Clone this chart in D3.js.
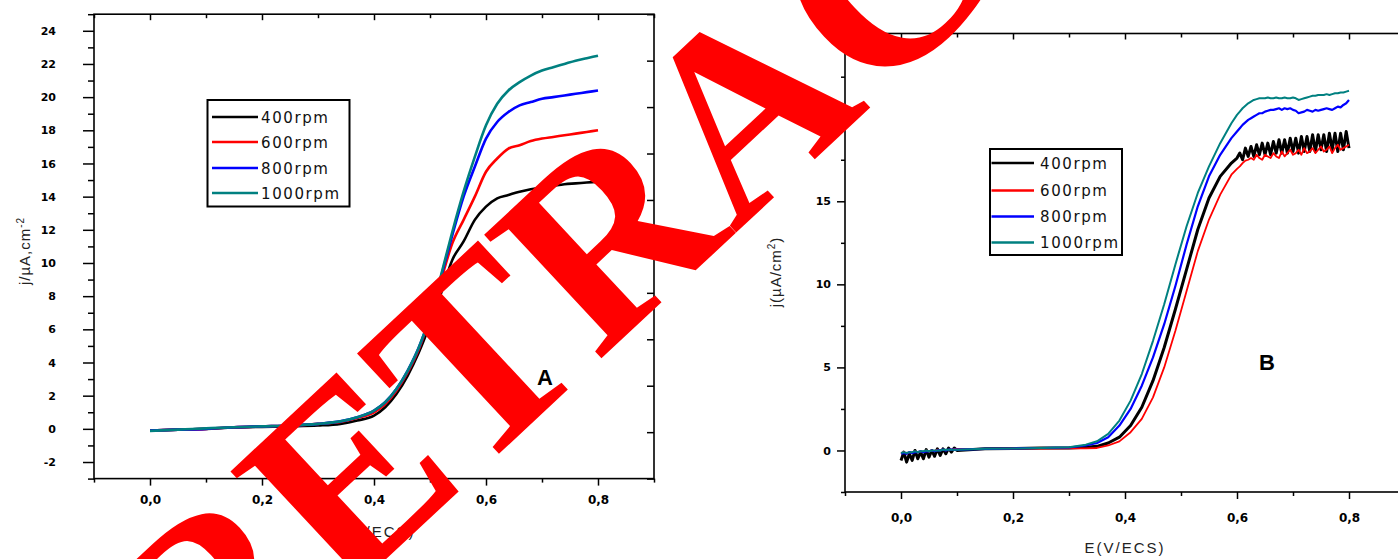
<!DOCTYPE html>
<html>
<head>
<meta charset="utf-8">
<script src="https://cdn.jsdelivr.net/npm/d3@7/dist/d3.min.js"></script>
<style>
  body { margin: 0; background: #fff; }
  svg { display: block; }
  .tick text { font-family: "DejaVu Sans", sans-serif; font-weight: bold; fill: #000; }
  .tick line { stroke: #000; stroke-width: 1.5; }
</style>
</head>
<body>
<svg id="chart" width="1398" height="559"></svg>
<script>
// legend entries and colours
var rpm = ["400rpm", "600rpm", "800rpm", "1000rpm"];
var colors = ["#000000", "#ff0000", "#0000ff", "#008080"];

// panel A : potential (V/ECS) and current density (uA/cm2)
var potA = [0, 0.05, 0.10, 0.15, 0.20, 0.25, 0.30, 0.34, 0.37, 0.40, 0.42, 0.44, 0.46, 0.48, 0.50,
            0.52, 0.54, 0.56, 0.58, 0.60, 0.62, 0.64, 0.66, 0.68, 0.70, 0.72, 0.74, 0.76, 0.78, 0.80];
var a400 = [-0.1, -0.05, 0.0, 0.08, 0.12, 0.15, 0.2, 0.3, 0.5, 0.8, 1.3, 2.1, 3.2, 4.6, 6.3,
            8.2, 10.2, 11.3, 12.6, 13.4, 13.9, 14.1, 14.3, 14.45, 14.55, 14.65, 14.75, 14.8, 14.85, 14.9];
var a600 = [-0.1, -0.05, 0.0, 0.1, 0.15, 0.2, 0.3, 0.42, 0.65, 1.0, 1.5, 2.3, 3.4, 4.8, 6.7,
            9.0, 11.2, 12.6, 14.0, 15.5, 16.3, 16.9, 17.1, 17.35, 17.5, 17.6, 17.7, 17.8, 17.9, 18.0];
var a800 = [-0.1, -0.05, 0.0, 0.1, 0.15, 0.2, 0.3, 0.45, 0.7, 1.1, 1.6, 2.4, 3.5, 4.9, 6.8,
            9.2, 11.7, 14.0, 15.8, 17.5, 18.5, 19.1, 19.5, 19.7, 19.9, 20.0, 20.1, 20.2, 20.3, 20.4];
var a1000 = [-0.12, -0.05, 0.03, 0.1, 0.15, 0.2, 0.3, 0.45, 0.7, 1.1, 1.6, 2.4, 3.5, 4.9, 6.8,
             9.3, 11.9, 14.3, 16.4, 18.3, 19.6, 20.4, 20.9, 21.3, 21.6, 21.8, 22.0, 22.2, 22.35, 22.5];

// panel B : denser sampling where the records are noisy
var potB = [0, 0.005, 0.01, 0.015, 0.02, 0.025, 0.03, 0.035, 0.04, 0.045, 0.05,
            0.055, 0.06, 0.065, 0.07, 0.075, 0.08, 0.085, 0.09, 0.095, 0.10,
            0.15, 0.20, 0.25, 0.30, 0.33,
            0.35, 0.37, 0.39, 0.41, 0.43, 0.45, 0.47, 0.49, 0.51, 0.53, 0.55, 0.57, 0.59,
            0.600, 0.605, 0.610, 0.615, 0.620, 0.625, 0.630, 0.635, 0.640, 0.645,
            0.650, 0.655, 0.660, 0.665, 0.670, 0.675, 0.680, 0.685, 0.690, 0.695,
            0.700, 0.705, 0.710, 0.715, 0.720, 0.725, 0.730, 0.735, 0.740, 0.745,
            0.750, 0.755, 0.760, 0.765, 0.770, 0.775, 0.780, 0.785, 0.790, 0.795, 0.800];
var b400 = [-0.6, -0.1, -0.7, -0.2, -0.6, 0.0, -0.5, -0.1, -0.5, 0.05, -0.4,
            0.0, -0.35, 0.1, -0.3, 0.1, -0.2, 0.15, -0.1, 0.15, 0.0,
            0.1, 0.12, 0.15, 0.15, 0.2,
            0.25, 0.45, 0.8, 1.5, 2.6, 4.2, 6.2, 8.5, 10.9, 13.3, 15.2, 16.5, 17.3,
            17.6, 17.9, 17.5, 18.2, 17.7, 18.3, 17.7, 18.4, 17.8, 18.5,
            17.8, 18.5, 17.8, 18.6, 17.9, 18.7, 17.9, 18.7, 17.9, 18.8,
            18.0, 18.8, 17.9, 18.9, 18.0, 18.9, 18.0, 19.0, 18.0, 19.0,
            18.1, 19.0, 18.0, 19.1, 18.1, 19.1, 18.0, 19.1, 18.1, 19.2, 18.2];
var b600 = [-0.2, -0.1, -0.2, -0.1, -0.15, -0.05, -0.1, -0.05, -0.1, 0.0, -0.05,
            0.0, -0.05, 0.05, 0.0, 0.05, 0.0, 0.05, 0.05, 0.1, 0.1,
            0.1, 0.12, 0.12, 0.13, 0.13,
            0.15, 0.3, 0.55, 1.1, 1.9, 3.2, 5.0, 7.2, 9.6, 12.0, 13.9, 15.4, 16.6,
            16.95, 17.1, 17.3, 17.45, 17.5, 17.6, 17.5, 17.8, 17.6, 17.5,
            17.8, 17.7, 17.6, 17.9, 17.7, 17.6, 18.0, 17.7, 17.9, 18.1,
            17.8, 17.9, 18.1, 17.8, 18.2, 17.9, 18.0, 18.2, 17.9, 18.1,
            18.3, 18.0, 18.1, 18.3, 17.9, 18.2, 18.4, 18.1, 18.2, 18.3, 18.4];
var b800 = [-0.2, -0.15, -0.2, -0.1, -0.15, -0.1, -0.1, -0.05, -0.1, -0.05, -0.05,
            0.0, -0.05, 0.0, 0.0, 0.05, 0.0, 0.05, 0.05, 0.05, 0.05,
            0.1, 0.12, 0.15, 0.18, 0.3,
            0.45, 0.8, 1.5, 2.5, 3.9, 5.6, 7.6, 9.9, 12.4, 14.7, 16.5, 17.8, 18.8,
            19.2, 19.4, 19.6, 19.75, 19.9, 20.0, 20.1, 20.2, 20.3, 20.3,
            20.4, 20.45, 20.5, 20.5, 20.55, 20.6, 20.5, 20.6, 20.55, 20.6,
            20.5, 20.45, 20.3, 20.35, 20.4, 20.5, 20.45, 20.4, 20.5, 20.45,
            20.5, 20.55, 20.6, 20.55, 20.5, 20.6, 20.7, 20.65, 20.8, 20.9, 21.1];
var b1000 = [-0.15, -0.1, -0.15, -0.1, -0.1, -0.05, -0.1, -0.05, -0.05, 0.0, -0.05,
             0.0, 0.0, 0.0, 0.0, 0.05, 0.05, 0.05, 0.05, 0.05, 0.05,
             0.1, 0.12, 0.15, 0.2, 0.35,
             0.55, 1.0, 1.8, 3.0, 4.6, 6.6, 8.8, 11.2, 13.5, 15.5, 17.1, 18.5, 19.7,
             20.2, 20.4, 20.6, 20.75, 20.9, 21.0, 21.1, 21.15, 21.2, 21.2,
             21.2, 21.25, 21.2, 21.2, 21.25, 21.2, 21.2, 21.25, 21.2, 21.2,
             21.25, 21.2, 21.1, 21.15, 21.2, 21.25, 21.3, 21.35, 21.35, 21.4,
             21.4, 21.4, 21.45, 21.4, 21.45, 21.5, 21.5, 21.55, 21.55, 21.6, 21.65];

var svg = d3.select("#chart");

function comma(d) {
    return d3.format(".1f")(d).replace(".", ",");
}

function drawPanel(p) {
    var x = d3.scaleLinear().domain([-0.1, 0.9]).range([p.left, p.right]);
    var y = d3.scaleLinear().domain(p.yDomain).range([p.bottom, p.top]);
    var g = svg.append("g");

    // curves
    var line = d3.line()
        .x(function(d) { return x(d[0]); })
        .y(function(d) { return y(d[1]); })
        .curve(p.curve);
    p.series.forEach(function(s, i) {
        g.append("path")
            .datum(p.pot.map(function(e, k) { return [e, s[k]]; }))
            .attr("fill", "none")
            .attr("stroke", colors[i])
            .attr("stroke-width", p.lw[i])
            .attr("stroke-linejoin", "round")
            .attr("d", line);
    });

    // minor and major ticks, bottom
    var minorX = d3.range(-0.1, 0.95, 0.2);
    var majorX = [0, 0.2, 0.4, 0.6, 0.8];
    g.append("g").attr("transform", "translate(0," + p.bottom + ")")
        .call(d3.axisBottom(x).tickValues(minorX).tickSize(4).tickSizeOuter(0).tickFormat(""));
    g.append("g").attr("transform", "translate(0," + p.bottom + ")")
        .call(d3.axisBottom(x).tickValues(majorX).tickSize(7).tickSizeOuter(0)
            .tickPadding(p.xPad).tickFormat(comma))
        .selectAll("text").style("font-size", "12px");
    // top ticks point inward
    g.append("g").attr("transform", "translate(0," + p.top + ")")
        .call(d3.axisBottom(x).tickValues(minorX).tickSize(4).tickSizeOuter(0).tickFormat(""));
    g.append("g").attr("transform", "translate(0," + p.top + ")")
        .call(d3.axisBottom(x).tickValues(majorX).tickSize(6).tickSizeOuter(0).tickFormat(""));

    // left axis
    g.append("g").attr("transform", "translate(" + p.left + ",0)")
        .call(d3.axisLeft(y).tickValues(p.yMinor).tickSize(p.minorLen).tickSizeOuter(0).tickFormat(""));
    g.append("g").attr("transform", "translate(" + p.left + ",0)")
        .call(d3.axisLeft(y).tickValues(p.yMajor).tickSize(p.majorLen).tickSizeOuter(0)
            .tickPadding(p.yPad).tickFormat(function(d) { return String(d); }))
        .selectAll("text").style("font-size", "11px");

    // right axis, inward ticks on its own divisions
    var r = d3.scaleLinear().domain([0, p.rightDiv]).range([p.bottom, p.top]);
    g.append("g").attr("transform", "translate(" + p.right + ",0)")
        .call(d3.axisRight(r).ticks(p.rightDiv).tickSize(-7).tickSizeOuter(0).tickFormat(""));

    g.selectAll(".domain").remove();

    // frame
    g.append("rect")
        .attr("x", p.left).attr("y", p.top)
        .attr("width", p.right - p.left).attr("height", p.bottom - p.top)
        .attr("fill", "none").attr("stroke", "#000").attr("stroke-width", 1.6);

    // axis titles
    g.append("text")
        .attr("x", p.xTitle[0]).attr("y", p.xTitle[1])
        .attr("text-anchor", "middle")
        .style("font-family", "Liberation Sans, sans-serif").style("font-size", "15px")
        .style("letter-spacing", "2px").style("fill", "#222")
        .text("E(V/ECS)");
    var yt = g.append("text")
        .attr("transform", "translate(" + p.yTitle[0] + "," + p.yTitle[1] + ") rotate(-90)")
        .attr("text-anchor", "middle")
        .style("font-family", "Liberation Sans, sans-serif").style("font-size", "15px")
        .style("letter-spacing", "1px").style("fill", "#222");
    yt.append("tspan").text(p.yLabel[0]);
    yt.append("tspan").attr("dy", -6).style("font-size", "10px").text(p.yLabel[1]);
    yt.append("tspan").attr("dy", 6).text(p.yLabel[2]);

    // legend
    var L = p.legend;
    g.append("rect")
        .attr("x", L.x0).attr("y", L.y0).attr("width", L.x1 - L.x0).attr("height", L.y1 - L.y0)
        .attr("fill", "#fff").attr("stroke", "#000").attr("stroke-width", 2);
    rpm.forEach(function(name, i) {
        var yy = L.rows[i];
        g.append("line")
            .attr("x1", L.lx0).attr("x2", L.lx1).attr("y1", yy).attr("y2", yy)
            .attr("stroke", colors[i]).attr("stroke-width", 2.5);
        g.append("text")
            .attr("x", L.tx).attr("y", yy + 5.5)
            .style("font-family", "DejaVu Sans, sans-serif").style("font-size", "15px")
            .style("letter-spacing", "1.6px").style("fill", "#111")
            .text(name);
    });

    // panel letter
    g.append("text")
        .attr("x", p.tag[0]).attr("y", p.tag[1])
        .attr("text-anchor", "middle")
        .style("font-family", "Liberation Sans, sans-serif").style("font-size", "22px")
        .style("font-weight", "bold")
        .text(p.tag[2]);
}

drawPanel({
    left: 94, right: 654, top: 14.2, bottom: 478.6,
    yDomain: [-3, 25],
    yMajor: d3.range(-2, 25, 2), yMinor: d3.range(-3, 26, 2),
    majorLen: 11, minorLen: 6, yPad: 27, xPad: 10, rightDiv: 10,
    pot: potA, series: [a400, a600, a800, a1000], lw: [2.6, 2.6, 2.6, 2.6],
    curve: d3.curveMonotoneX,
    xTitle: [375, 537], yTitle: [30, 251], yLabel: ["j/\u00b5A,cm", "-2", ""],
    legend: { x0: 207.5, y0: 100, x1: 349.5, y1: 206.5, lx0: 212, lx1: 258, tx: 261,
              rows: [117, 142, 168, 193] },
    tag: [545, 385, "A"]
});

drawPanel({
    left: 845, right: 1405, top: 33.5, bottom: 492,
    yDomain: [-2.5, 25.1],
    yMajor: [0, 5, 10, 15, 20], yMinor: [-2.5, 2.5, 7.5, 12.5, 17.5, 22.5, 25],
    majorLen: 8, minorLen: 4, yPad: 6, xPad: 14, rightDiv: 5,
    pot: potB, series: [b400, b600, b800, b1000], lw: [3, 1.8, 2.2, 2],
    curve: d3.curveLinear,
    xTitle: [1125, 553], yTitle: [781, 272], yLabel: ["j(\u00b5A/cm", "2", ")"],
    legend: { x0: 990, y0: 149, x1: 1122, y1: 255, lx0: 991.5, lx1: 1034, tx: 1040,
              rows: [163, 190.5, 216.5, 242.5] },
    tag: [1267, 370, "B"]
});

// retraction stamp laid over both panels
svg.append("text")
    .attr("transform", "translate(206,727) rotate(-43)")
    .style("font-family", "Liberation Serif, serif")
    .style("font-size", "260px")
    .style("font-weight", "bold")
    .style("fill", "#ff0000")
    .text("RETRACTED");
</script>
</body>
</html>
